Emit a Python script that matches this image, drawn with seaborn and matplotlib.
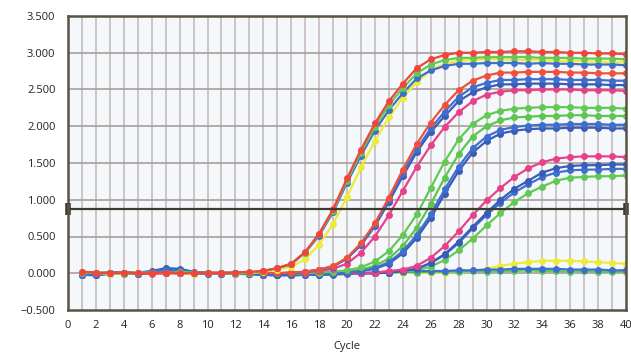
import pandas as pd
import numpy as np
import matplotlib
matplotlib.use("Agg")
import matplotlib.pyplot as plt
import seaborn as sns

# cycles and fluorescence readings (delta Rn) per well
cycles = list(range(1, 41))

yellow_flat = [0.01, 0.00, 0.01, 0.00, -0.01, 0.00, 0.01, 0.00, 0.00, 0.01, 0.00, 0.00, 0.01, 0.00,
               0.00, 0.01, 0.00, 0.00, 0.01, 0.00, 0.01, 0.00, 0.01, 0.01, 0.00, 0.01, 0.01, 0.02,
               0.03, 0.06, 0.10, 0.13, 0.15, 0.17, 0.17, 0.17, 0.16, 0.15, 0.14, 0.13]
green_flat = [0.00, -0.01, 0.00, 0.01, 0.00, 0.00, 0.01, 0.00, -0.01, 0.00, 0.00, 0.01, 0.00, -0.01,
              -0.02, -0.01, 0.00, -0.01, 0.00, 0.00, 0.01, 0.00, 0.01, 0.02, 0.01, 0.02, 0.02, 0.02,
              0.03, 0.02, 0.03, 0.03, 0.04, 0.03, 0.03, 0.02, 0.03, 0.02, 0.02, 0.02]
blue_flat = [-0.02, -0.03, -0.01, 0.00, -0.01, 0.02, 0.06, 0.05, 0.01, 0.00, -0.01, 0.00, -0.01, -0.02,
             -0.03, -0.02, -0.01, -0.02, -0.01, 0.00, 0.00, 0.01, 0.02, 0.02, 0.03, 0.03, 0.03, 0.04,
             0.04, 0.05, 0.05, 0.06, 0.06, 0.06, 0.06, 0.05, 0.05, 0.05, 0.04, 0.04]

green_d = [0.00, 0.01, 0.00, -0.01, 0.00, 0.01, 0.00, 0.00, 0.01, 0.00, -0.01, 0.00, 0.00, -0.01,
           -0.02, -0.02, -0.01, -0.02, -0.01, 0.00, 0.00, 0.00, 0.01, 0.02, 0.04, 0.09, 0.18, 0.31,
           0.47, 0.65, 0.82, 0.97, 1.09, 1.18, 1.26, 1.30, 1.31, 1.32, 1.32, 1.33]
blue_d2 = [-0.01, 0.00, 0.00, 0.01, 0.00, 0.01, 0.03, 0.02, 0.00, 0.00, -0.01, 0.00, 0.00, -0.02,
           -0.02, -0.03, -0.02, -0.01, -0.02, -0.01, 0.00, 0.00, 0.01, 0.03, 0.06, 0.14, 0.25, 0.41,
           0.61, 0.79, 0.96, 1.10, 1.21, 1.31, 1.37, 1.40, 1.41, 1.41, 1.42, 1.42]
blue_d1 = [0.00, -0.01, 0.00, 0.00, 0.01, 0.00, 0.02, 0.01, 0.00, 0.01, 0.00, 0.00, -0.01, -0.01,
           -0.02, -0.02, -0.01, -0.02, -0.01, 0.00, 0.00, 0.00, 0.01, 0.03, 0.06, 0.14, 0.26, 0.43,
           0.63, 0.82, 1.00, 1.15, 1.26, 1.37, 1.43, 1.46, 1.47, 1.47, 1.48, 1.48]
pink_d = [0.01, 0.00, 0.00, 0.01, 0.00, 0.00, 0.01, 0.00, 0.00, 0.00, 0.01, 0.00, 0.00, 0.00,
          -0.01, 0.00, 0.00, 0.00, 0.00, 0.00, 0.00, 0.01, 0.03, 0.05, 0.10, 0.21, 0.37, 0.57,
          0.79, 0.99, 1.16, 1.31, 1.43, 1.51, 1.56, 1.58, 1.59, 1.59, 1.59, 1.58]

blue_c2 = [-0.01, -0.02, 0.00, 0.00, 0.01, 0.03, 0.07, 0.06, 0.02, 0.00, 0.00, -0.01, -0.01, -0.02,
           -0.03, -0.02, -0.02, -0.01, -0.01, 0.01, 0.03, 0.06, 0.13, 0.27, 0.48, 0.75, 1.08, 1.39,
           1.64, 1.80, 1.90, 1.94, 1.96, 1.97, 1.97, 1.98, 1.98, 1.98, 1.97, 1.97]
green_c2 = [0.00, 0.00, 0.01, 0.00, -0.01, 0.00, 0.01, 0.00, 0.00, 0.01, 0.00, 0.00, -0.01, -0.01,
            -0.02, -0.01, -0.01, 0.00, 0.01, 0.02, 0.05, 0.10, 0.20, 0.37, 0.62, 0.94, 1.30, 1.62,
            1.86, 2.00, 2.08, 2.12, 2.13, 2.14, 2.14, 2.15, 2.15, 2.14, 2.14, 2.14]
blue_c1 = [-0.02, -0.01, 0.00, 0.01, 0.00, 0.02, 0.04, 0.03, 0.01, 0.00, -0.01, 0.00, -0.01, -0.02,
           -0.02, -0.03, -0.02, -0.01, 0.00, 0.01, 0.03, 0.07, 0.15, 0.30, 0.52, 0.80, 1.14, 1.45,
           1.70, 1.86, 1.95, 1.99, 2.01, 2.02, 2.02, 2.03, 2.03, 2.03, 2.02, 2.02]
green_c1 = [0.01, 0.00, 0.00, -0.01, 0.00, 0.01, 0.00, 0.01, 0.00, 0.00, 0.00, 0.01, 0.00, -0.01,
            -0.01, -0.01, 0.00, 0.01, 0.02, 0.04, 0.08, 0.16, 0.30, 0.52, 0.80, 1.16, 1.52, 1.82,
            2.03, 2.15, 2.21, 2.24, 2.25, 2.26, 2.26, 2.26, 2.25, 2.25, 2.25, 2.24]

pink_b = [0.01, 0.00, 0.00, 0.01, 0.00, -0.01, 0.00, 0.01, 0.00, 0.00, 0.01, 0.00, 0.00, 0.01,
          0.00, 0.01, 0.01, 0.03, 0.06, 0.13, 0.28, 0.50, 0.79, 1.12, 1.45, 1.74, 1.99, 2.19,
          2.34, 2.43, 2.47, 2.49, 2.49, 2.50, 2.50, 2.50, 2.49, 2.49, 2.49, 2.48]
blue_b2 = [-0.01, -0.02, 0.00, 0.00, -0.01, 0.01, 0.04, 0.03, 0.00, -0.01, 0.00, 0.00, -0.01, -0.01,
           -0.02, -0.01, 0.02, 0.05, 0.09, 0.20, 0.38, 0.64, 0.97, 1.32, 1.65, 1.92, 2.14, 2.34,
           2.46, 2.53, 2.57, 2.57, 2.58, 2.58, 2.58, 2.57, 2.57, 2.57, 2.56, 2.56]
blue_b1 = [0.00, -0.01, 0.01, 0.00, 0.00, 0.02, 0.05, 0.04, 0.01, 0.00, -0.01, 0.00, 0.00, -0.01,
           -0.01, 0.00, 0.02, 0.05, 0.09, 0.21, 0.39, 0.65, 0.99, 1.36, 1.69, 1.97, 2.20, 2.40,
           2.53, 2.59, 2.63, 2.63, 2.64, 2.64, 2.64, 2.63, 2.63, 2.63, 2.62, 2.62]
red_b = [0.02, 0.00, 0.01, 0.00, 0.00, 0.01, 0.00, 0.00, 0.01, 0.00, 0.00, 0.01, 0.00, 0.01,
         0.00, 0.01, 0.02, 0.05, 0.10, 0.21, 0.41, 0.68, 1.03, 1.41, 1.76, 2.05, 2.29, 2.49,
         2.62, 2.69, 2.73, 2.73, 2.74, 2.74, 2.74, 2.73, 2.73, 2.72, 2.72, 2.72]

yellow_a = [0.01, 0.00, -0.01, 0.00, 0.01, 0.00, 0.01, 0.00, -0.01, 0.00, 0.00, 0.01, 0.00, 0.02,
            0.05, 0.09, 0.19, 0.39, 0.67, 1.04, 1.44, 1.80, 2.12, 2.39, 2.60, 2.76, 2.85, 2.89,
            2.90, 2.91, 2.91, 2.90, 2.90, 2.90, 2.89, 2.89, 2.88, 2.88, 2.87, 2.87]
blue_a = [-0.02, -0.01, 0.01, 0.00, -0.01, 0.02, 0.05, 0.03, 0.00, -0.01, 0.00, 0.01, 0.01, 0.03,
          0.07, 0.12, 0.28, 0.51, 0.83, 1.23, 1.60, 1.94, 2.22, 2.45, 2.65, 2.76, 2.82, 2.85,
          2.85, 2.86, 2.86, 2.86, 2.85, 2.86, 2.85, 2.85, 2.84, 2.84, 2.84, 2.83]
green_a = [0.00, 0.01, 0.00, -0.01, 0.00, 0.01, 0.00, 0.02, 0.01, 0.00, 0.00, -0.01, 0.01, 0.03,
           0.07, 0.13, 0.28, 0.53, 0.85, 1.26, 1.64, 1.99, 2.29, 2.52, 2.72, 2.84, 2.90, 2.93,
           2.93, 2.94, 2.94, 2.94, 2.94, 2.93, 2.93, 2.93, 2.92, 2.92, 2.92, 2.91]
red_a = [0.02, 0.01, 0.00, 0.01, 0.00, 0.00, 0.01, 0.00, 0.00, 0.01, 0.00, 0.01, 0.02, 0.03,
         0.07, 0.13, 0.29, 0.54, 0.87, 1.29, 1.68, 2.04, 2.34, 2.58, 2.79, 2.91, 2.97, 3.00,
         3.00, 3.01, 3.01, 3.02, 3.02, 3.01, 3.01, 3.00, 3.00, 2.99, 2.99, 2.98]

threshold = 0.87
y_ticks = [-0.5, 0.0, 0.5, 1.0, 1.5, 2.0, 2.5, 3.0, 3.5]
x_ticks = list(range(0, 41, 2))

wells = {
    "yellow_flat": (yellow_flat, "#eeea3a"),
    "green_flat": (green_flat, "#62c955"),
    "blue_flat": (blue_flat, "#3f6fcc"),
    "green_d": (green_d, "#62c955"),
    "blue_d2": (blue_d2, "#3f6fcc"),
    "blue_d1": (blue_d1, "#3a5cb8"),
    "pink_d": (pink_d, "#e8418b"),
    "blue_c2": (blue_c2, "#3a5cb8"),
    "green_c2": (green_c2, "#5cc64f"),
    "blue_c1": (blue_c1, "#3f6fcc"),
    "green_c1": (green_c1, "#62c955"),
    "pink_b": (pink_b, "#e8418b"),
    "blue_b2": (blue_b2, "#3a5cb8"),
    "blue_b1": (blue_b1, "#3f6fcc"),
    "red_b": (red_b, "#f0503c"),
    "yellow_a": (yellow_a, "#eeea3a"),
    "blue_a": (blue_a, "#3f6fcc"),
    "green_a": (green_a, "#62c955"),
    "red_a": (red_a, "#f2443c"),
}

rows = []
for name, (vals, _) in wells.items():
    for c, v in zip(cycles, vals):
        rows.append({"well": name, "cycle": c, "value": v})
df = pd.DataFrame(rows)
palette = {name: col for name, (_, col) in wells.items()}

sns.set_style("white")
plt.rcParams['font.family'] = ['Open Sans', 'DejaVu Sans']

fig = plt.figure(figsize=(6.31, 3.53), dpi=100)
ax = fig.add_axes([68 / 631, 1 - 310 / 353, (626 - 68) / 631, (310 - 16) / 353])
ax.set_facecolor("#f5f8fb")

# grid: every cycle vertically, every 0.5 horizontally
for c in range(1, 40):
    ax.axvline(c, color="#c2b8b6", lw=1.1, zorder=0)
for v in y_ticks[1:-1]:
    ax.axhline(v, color="#a99e9a", lw=1.2, zorder=0)

sns.lineplot(data=df, x="cycle", y="value", hue="well", hue_order=list(wells.keys()),
             palette=palette, marker="o", markersize=5, markeredgewidth=0,
             linewidth=1.6, legend=False, ax=ax, zorder=3)

ax.axhline(threshold, color="#3e3a30", lw=1.6, zorder=4)
ax.plot([0, 40], [threshold, threshold], ls="none", marker="|", markersize=9,
        markeredgewidth=4, color="#3e3a30", clip_on=False, zorder=5)

ax.set_xlim(0, 40)
ax.set_ylim(-0.5, 3.5)
ax.set_xticks(x_ticks)
ax.set_xticks(range(0, 41), minor=True)
ax.set_yticks(y_ticks)
ax.set_yticklabels([f"{v:.3f}".replace("-", "\u2212") for v in y_ticks])
ax.tick_params(axis="x", which="both", direction="inout", length=9, width=1.6,
               color="#4e4638", labelsize=8, pad=3)
ax.tick_params(axis="y", direction="out", length=6, width=1.4, color="#4e4638",
               labelsize=8, pad=3)
ax.tick_params(axis="both", labelcolor="#222222")
ax.set_xlabel("Cycle", fontsize=8, color="#222222", labelpad=7)
ax.set_ylabel("")

for sp in ax.spines.values():
    sp.set_color("#5a5244")
    sp.set_linewidth(1.8)
    sp.set_zorder(6)

fig.savefig("out.png", dpi=100)
